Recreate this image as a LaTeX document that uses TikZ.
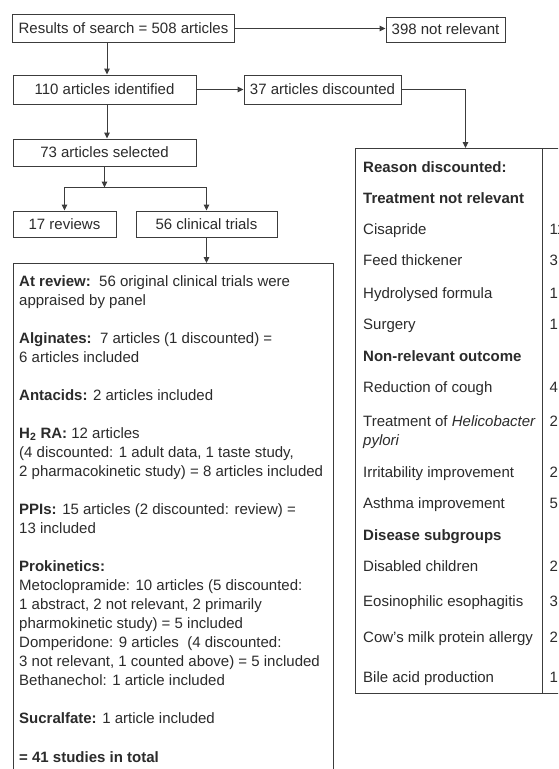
\documentclass[tikz,border=0pt]{standalone}
\usepackage{fontspec}
\setmainfont{Liberation Sans}
\usepackage{xcolor}
\usepackage{tikz}
\usetikzlibrary{arrows.meta, positioning}

\definecolor{linegray}{HTML}{3C3C3C}
\definecolor{inkgray}{HTML}{2B2B2B}

\begin{document}
\begin{tikzpicture}[x=1pt, y=-1pt,
    every node/.style={text=inkgray, font=\fontsize{15}{19.04}\selectfont},
    stage/.style={draw=linegray, line width=1pt, inner sep=0pt},
    flow/.style={draw=linegray, line width=1pt, -{Triangle[length=6pt, width=5.5pt]}},
    row/.style={anchor=base west, inner sep=0pt}]

        \path[use as bounding box, fill=white] (0,0) rectangle (558,769);
        \clip (0,0) rectangle (558,769);

        % flow boxes
        \node[stage, minimum width=222, minimum height=28] (res) at (123.5,28.5) {Results of search = 508 articles};
        \node[stage, minimum width=119, minimum height=25] (notrel) at (445.5,29.5) {398 not relevant};
        \node[stage, minimum width=183, minimum height=29] (ident) at (104.5,89.5) {110 articles identified};
        \node[stage, minimum width=157, minimum height=29] (disc) at (322.5,89.5) {37 articles discounted};
        \node[stage, minimum width=183, minimum height=27] (sel) at (104.5,152.5) {73 articles selected};
        \node[stage, minimum width=103, minimum height=26] (rev) at (64.5,224) {17 reviews};
        \node[stage, minimum width=141, minimum height=26] (trials) at (206.5,224) {56 clinical trials};
        \coordinate[below=21pt of sel.south] (fork);

        % review panel
        \node[stage, anchor=north west, minimum width=320, minimum height=560] (panel) at (13,263) {};
        \node[row, anchor=north west, align=left] (paneltext) at (19,275) {%
            \textbf{At review:}\ \ 56 original clinical trials were\\
            appraised by panel\\[19.04pt]
            \textbf{Alginates:}\ \ 7 articles (1 discounted) =\\
            6 articles included\\[19.04pt]
            \textbf{Antacids:} 2 articles included\\[19.04pt]
            \textbf{H\textsubscript{2} RA:} 12 articles\\
            (4 discounted: 1 adult data, 1 taste study,\\
            2 pharmacokinetic study) = 8 articles included\\[19.04pt]
            \textbf{PPIs:} 15 articles (2 discounted: review) =\\
            13 included\\[19.04pt]
            \textbf{Prokinetics:}\\
            Metoclopramide: 10 articles (5 discounted:\\
            1 abstract, 2 not relevant, 2 primarily\\
            pharmokinetic study) = 5 included\\
            Domperidone: 9 articles\ \ (4 discounted:\\
            3 not relevant, 1 counted above) = 5 included\\
            Bethanechol: 1 article included\\[19.04pt]
            \textbf{Sucralfate:} 1 article included\\[19.04pt]
            \textbf{= 41 studies in total}};

        % reasons table
        \node[stage, anchor=north west, minimum width=220, minimum height=545] (tab) at (355,148) {};
        \draw[linegray, line width=1pt] ([xshift=187pt]tab.north west) -- ([xshift=187pt]tab.south west);

        \node[row] (why) at (363,172) {\textbf{Reason discounted:}};
        \node[row] (treat) at (363,203) {\textbf{Treatment not relevant}};
        \node[row] (cisa) at (363,234) {Cisapride};
        \node[row] (feed) at (363,265) {Feed thickener};
        \node[row] (hydro) at (363,298) {Hydrolysed formula};
        \node[row] (surg) at (363,329) {Surgery};
        \node[row] (outc) at (363,361) {\textbf{Non-relevant outcome}};
        \node[row] (cough) at (363,392) {Reduction of cough};
        \node[row] (hpyl) at (363,426) {Treatment of \textit{Helicobacter}};
        \node[row] (hpyl2) at (363,445) {\textit{pylori}};
        \node[row] (irrit) at (363,477) {Irritability improvement};
        \node[row] (asth) at (363,508) {Asthma improvement};
        \node[row] (subg) at (363,540) {\textbf{Disease subgroups}};
        \node[row] (disab) at (363,571) {Disabled children};
        \node[row] (eosin) at (363,606) {Eosinophilic esophagitis};
        \node[row] (cmpa) at (363,642) {Cow's milk protein allergy};
        \node[row] (bile) at (363,682) {Bile acid production};

        \node[row] (ncisa) at (549.5,234) {11};
        \node[row] (nfeed) at (549.5,265) {3};
        \node[row] (nhydro) at (549.5,298) {1};
        \node[row] (nsurg) at (549.5,329) {1};
        \node[row] (ncough) at (549.5,392) {4};
        \node[row] (nhpyl) at (549.5,426) {2};
        \node[row] (nirrit) at (549.5,477) {2};
        \node[row] (nasth) at (549.5,508) {5};
        \node[row] (ndisab) at (549.5,571) {2};
        \node[row] (neosin) at (549.5,606) {3};
        \node[row] (ncmpa) at (549.5,642) {2};
        \node[row] (nbile) at (549.5,682) {1};

        % connectors
        \draw[flow] (res.east) -- (res.east -| notrel.west);
        \draw[flow] ([xshift=2.5pt]ident.north |- res.south) -- ([xshift=2.5pt]ident.north);
        \draw[flow] (ident) -- (disc);
        \draw[flow] (disc.east) -| (tab.north);
        \draw[flow] ([xshift=2.5pt]sel.north |- ident.south) -- ([xshift=2.5pt]sel.north);
        \draw[flow] (sel) -- (fork);
        \draw[flow] (fork) -| (rev);
        \draw[flow] (fork) -| (trials);
        \draw[flow] (trials.south) -- (trials.south |- panel.north);

    \end{tikzpicture}
\end{document}
